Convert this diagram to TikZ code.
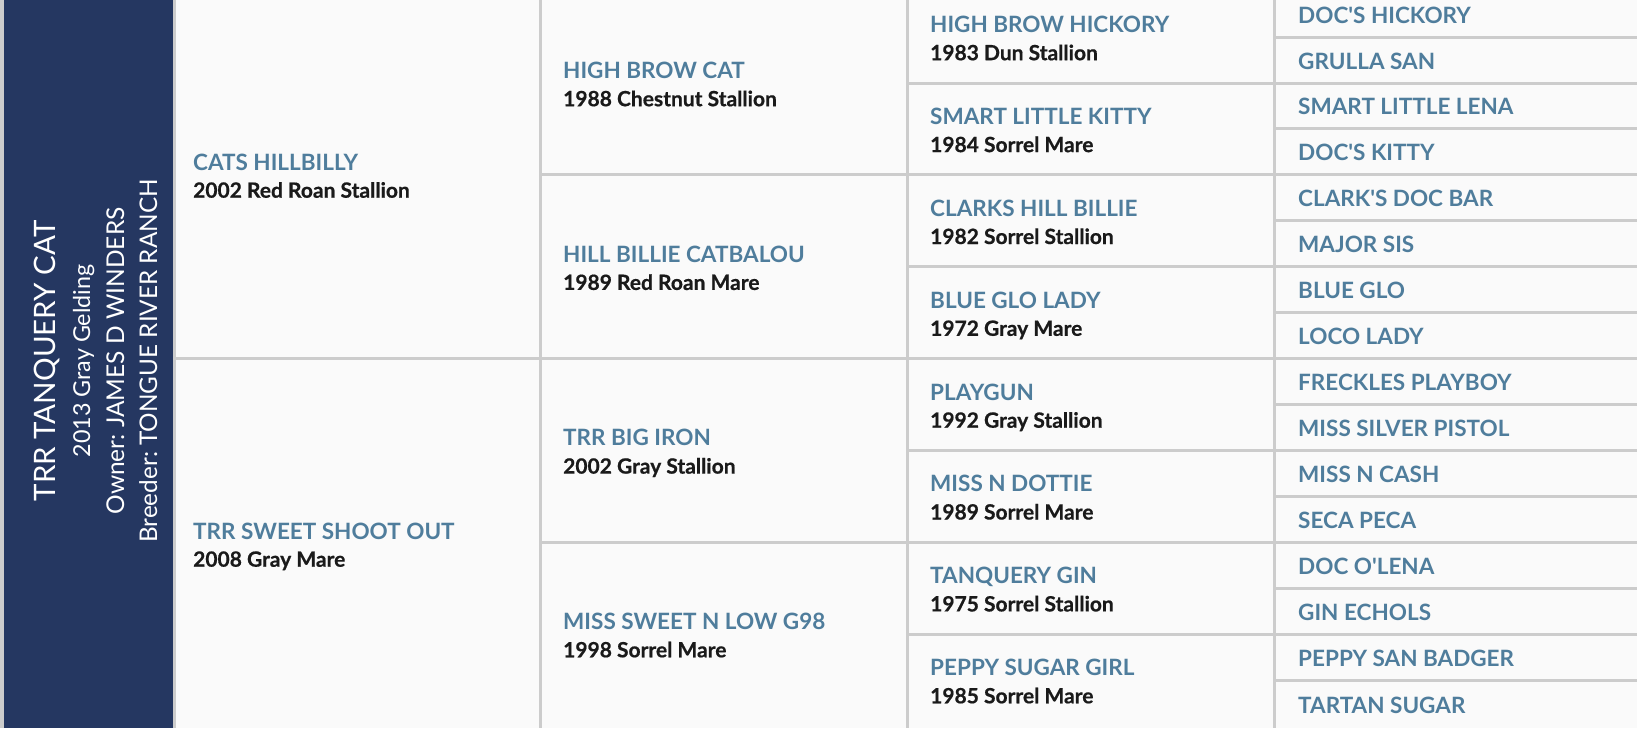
\documentclass[tikz,border=0pt]{standalone}
\usepackage{fontspec}
\setmainfont{Lato}
\newfontfamily\namefont{Lato}[Ligatures=TeXOff]
\newfontfamily\yearfont{Lato}[BoldFeatures={FakeBold=0.6}]
\definecolor{navy}{HTML}{253761}
\definecolor{steel}{HTML}{4F7D9C}
\definecolor{ink}{HTML}{1A1A1A}
\definecolor{rulegray}{HTML}{CCCCCC}
\definecolor{paper}{HTML}{FAFAFA}

\begin{document}
\begin{tikzpicture}[x=1pt,y=-1pt,
    rule/.style={draw=rulegray,line width=3pt},
    horse/.style={anchor=base west,inner sep=0pt,text=steel,
                  font=\namefont\bfseries\fontsize{22.5}{27}\selectfont},
    about/.style={anchor=base west,inner sep=0pt,text=ink,
                  font=\yearfont\bfseries\fontsize{21}{25}\selectfont},
    title/.style={rotate=90,anchor=base,inner sep=0pt,text=white,
                  font=\fontsize{24.3}{29}\selectfont},
    ]

                    \useasboundingbox (0,0) rectangle (1637,728);
                    \clip (0,0) rectangle (1637,728);

                    \fill[paper] (0,0) rectangle (1637,728);
                    \fill[rulegray] (0,0) rectangle (4,728);
                    \fill[navy] (4,0) rectangle (172.5,728);

                    \path[rule] (174,0) -- (174,728)
                                (540.5,0) -- (540.5,728)
                                (907.5,0) -- (907.5,728)
                                (1274.5,0) -- (1274.5,728);
                    \path[rule] (174,358.5) -- (1637,358.5)
                                (540.5,174.8) -- (1637,174.8)
                                (540.5,542.3) -- (1637,542.3)
                                (907.5,83.0) -- (1637,83.0)
                                (907.5,266.7) -- (1637,266.7)
                                (907.5,450.4) -- (1637,450.4)
                                (907.5,634.1) -- (1637,634.1);
                    \path[rule] (1274.5,37.0) -- (1637,37.0)
                                (1274.5,128.9) -- (1637,128.9)
                                (1274.5,220.8) -- (1637,220.8)
                                (1274.5,312.6) -- (1637,312.6)
                                (1274.5,404.5) -- (1637,404.5)
                                (1274.5,496.3) -- (1637,496.3)
                                (1274.5,588.2) -- (1637,588.2)
                                (1274.5,680.1) -- (1637,680.1);

                    \node[title,font=\fontsize{29.5}{35}\selectfont] (horse) at (55,361) {TRR TANQUERY CAT};
                    \node[title,font=\fontsize{23.3}{28}\selectfont] (born) at (90,361) {2013 Gray Gelding};
                    \node[title,font=\fontsize{24.5}{29}\selectfont] (owner) at (124,361) {Owner:\ JAMES D WINDERS};
                    \node[title] (breeder) at (157,361) {Breeder:\ TONGUE RIVER RANCH};

                    \node[horse] (sire) at (193,170) {CATS HILLBILLY};
                    \node[about] (sire-yr) at ([yshift=-27.7pt]sire.base west) {2002 Red Roan Stallion};
                    \node[horse] (dam) at (193,539) {TRR SWEET SHOOT OUT};
                    \node[about] (dam-yr) at ([yshift=-27.7pt]dam.base west) {2008 Gray Mare};

                    \node[horse] (ss) at (563,78.5) {HIGH BROW CAT};
                    \node[about] (ss-yr) at ([yshift=-27.7pt]ss.base west) {1988 Chestnut Stallion};
                    \node[horse] (sd) at (563,262.2) {HILL BILLIE CATBALOU};
                    \node[about] (sd-yr) at ([yshift=-27.7pt]sd.base west) {1989 Red Roan Mare};
                    \node[horse] (ds) at (563,445.9) {TRR BIG IRON};
                    \node[about] (ds-yr) at ([yshift=-27.7pt]ds.base west) {2002 Gray Stallion};
                    \node[horse] (dd) at (563,629.6) {MISS SWEET N LOW G98};
                    \node[about] (dd-yr) at ([yshift=-27.7pt]dd.base west) {1998 Sorrel Mare};

                    \node[horse] (sss) at (930,32.5) {HIGH BROW HICKORY};
                    \node[about] (sss-yr) at ([yshift=-27.7pt]sss.base west) {1983 Dun Stallion};
                    \node[horse] (ssd) at (930,124.4) {SMART LITTLE KITTY};
                    \node[about] (ssd-yr) at ([yshift=-27.7pt]ssd.base west) {1984 Sorrel Mare};
                    \node[horse] (sds) at (930,216.3) {CLARKS HILL BILLIE};
                    \node[about] (sds-yr) at ([yshift=-27.7pt]sds.base west) {1982 Sorrel Stallion};
                    \node[horse] (sdd) at (930,308.1) {BLUE GLO LADY};
                    \node[about] (sdd-yr) at ([yshift=-27.7pt]sdd.base west) {1972 Gray Mare};
                    \node[horse] (dss) at (930,400) {PLAYGUN};
                    \node[about] (dss-yr) at ([yshift=-27.7pt]dss.base west) {1992 Gray Stallion};
                    \node[horse] (dsd) at (930,491.8) {MISS N DOTTIE};
                    \node[about] (dsd-yr) at ([yshift=-27.7pt]dsd.base west) {1989 Sorrel Mare};
                    \node[horse] (dds) at (930,583.7) {TANQUERY GIN};
                    \node[about] (dds-yr) at ([yshift=-27.7pt]dds.base west) {1975 Sorrel Stallion};
                    \node[horse] (ddd) at (930,675.6) {PEPPY SUGAR GIRL};
                    \node[about] (ddd-yr) at ([yshift=-27.7pt]ddd.base west) {1985 Sorrel Mare};

                    \node[horse] (ssss) at (1298,23.1) {DOC'S HICKORY};
                    \node[horse] (sssd) at (1298,69.0) {GRULLA SAN};
                    \node[horse] (ssds) at (1298,114.9) {SMART LITTLE LENA};
                    \node[horse] (ssdd) at (1298,160.9) {DOC'S KITTY};
                    \node[horse] (sdss) at (1298,206.8) {CLARK'S DOC BAR};
                    \node[horse] (sdsd) at (1298,252.7) {MAJOR SIS};
                    \node[horse] (sdds) at (1298,298.7) {BLUE GLO};
                    \node[horse] (sddd) at (1298,344.6) {LOCO LADY};
                    \node[horse] (dsss) at (1298,390.5) {FRECKLES PLAYBOY};
                    \node[horse] (dssd) at (1298,436.4) {MISS SILVER PISTOL};
                    \node[horse] (dsds) at (1298,482.4) {MISS N CASH};
                    \node[horse] (dsdd) at (1298,528.3) {SECA PECA};
                    \node[horse] (ddss) at (1298,574.2) {DOC O'LENA};
                    \node[horse] (ddsd) at (1298,620.2) {GIN ECHOLS};
                    \node[horse] (ddds) at (1298,666.1) {PEPPY SAN BADGER};
                    \node[horse] (dddd) at (1298,713.5) {TARTAN SUGAR};
                \end{tikzpicture}
\end{document}
